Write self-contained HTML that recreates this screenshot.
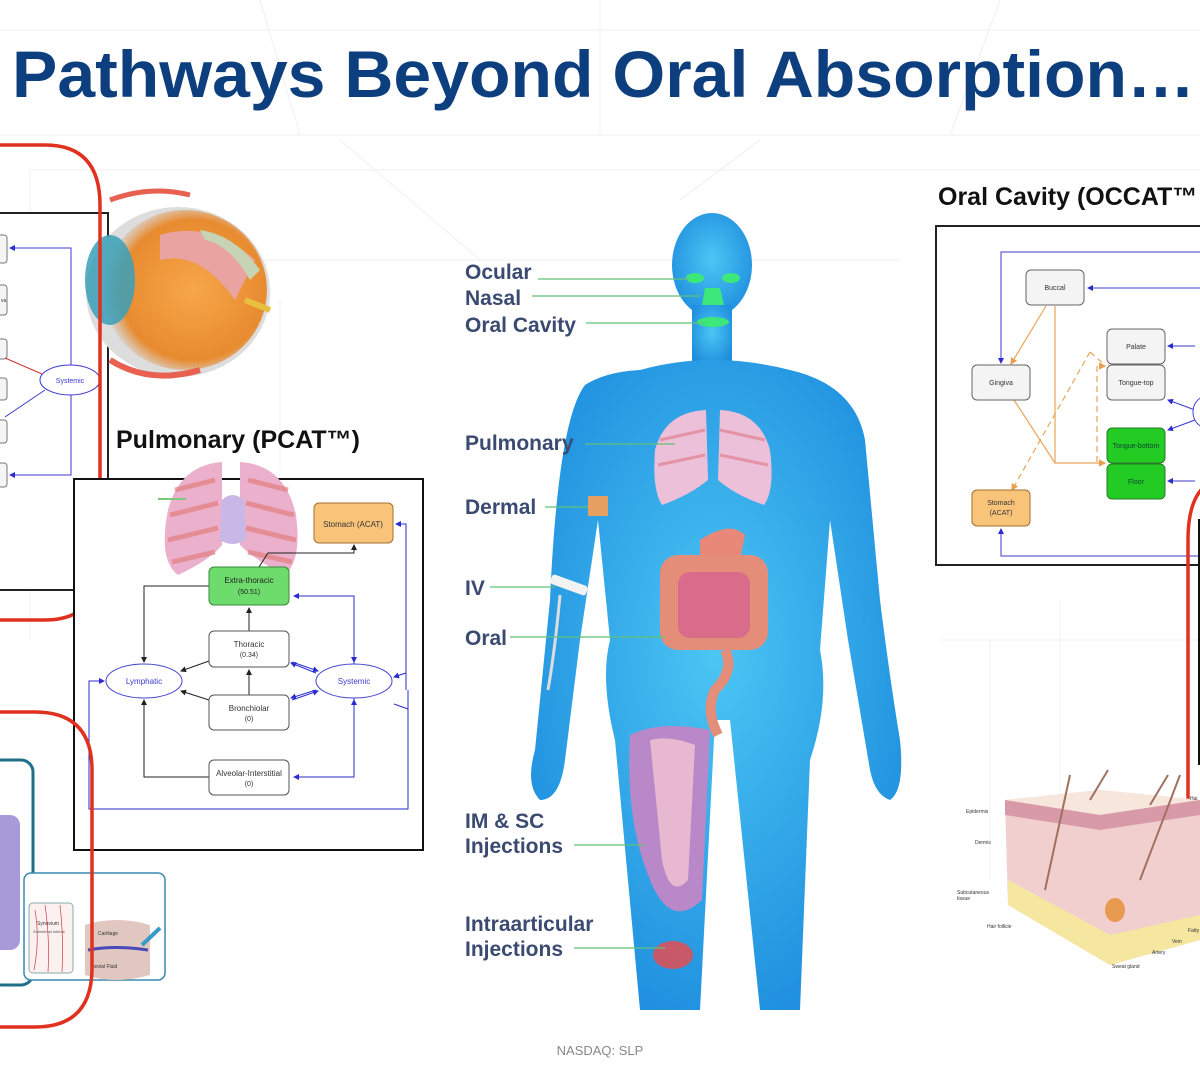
<!DOCTYPE html>
<html><head><meta charset="utf-8"><style>
html,body{margin:0;padding:0;background:#fff;}
svg{display:block;font-family:"Liberation Sans",sans-serif;}
</style></head><body>
<svg width="1200" height="1080" viewBox="0 0 1200 1080" xmlns="http://www.w3.org/2000/svg">
<defs>
<marker id="ab" markerWidth="6" markerHeight="6" refX="5" refY="3" orient="auto"><path d="M0,0 L6,3 L0,6z" fill="#2b2bd0"/></marker>
<marker id="ak" markerWidth="6" markerHeight="6" refX="5" refY="3" orient="auto"><path d="M0,0 L6,3 L0,6z" fill="#222"/></marker>
<marker id="ao" markerWidth="6" markerHeight="6" refX="5" refY="3" orient="auto"><path d="M0,0 L6,3 L0,6z" fill="#e8a050"/></marker>
<radialGradient id="bodyg" cx="50%" cy="45%" r="60%"><stop offset="0" stop-color="#4cc6f4"/><stop offset="1" stop-color="#1e8ede"/></radialGradient>
<radialGradient id="eyeg" cx="55%" cy="50%" r="55%"><stop offset="0" stop-color="#f7a64a"/><stop offset="0.8" stop-color="#e88b30"/><stop offset="1" stop-color="#d8d8d8"/></radialGradient>
</defs>
<g stroke="#f2f2f2" stroke-width="1.2" fill="none">
<line x1="0" y1="30" x2="1200" y2="30"/><line x1="0" y1="135" x2="1200" y2="135"/>
<line x1="30" y1="170" x2="1200" y2="170"/><line x1="100" y1="260" x2="900" y2="260"/>
<line x1="260" y1="0" x2="300" y2="135"/><line x1="600" y1="0" x2="600" y2="135"/>
<line x1="1000" y1="0" x2="950" y2="135"/><line x1="340" y1="140" x2="480" y2="260"/>
<line x1="760" y1="140" x2="680" y2="200"/><line x1="30" y1="170" x2="30" y2="640"/>
<line x1="990" y1="640" x2="990" y2="880"/><line x1="1060" y1="600" x2="1060" y2="800"/>
<line x1="940" y1="640" x2="1200" y2="640"/><line x1="280" y1="300" x2="280" y2="470"/>
</g>
<text x="12" y="97" font-size="66" font-weight="bold" fill="#0d3f7f" textLength="1183" lengthAdjust="spacingAndGlyphs">Pathways Beyond Oral Absorption…</text>

<rect x="-5" y="213" width="113" height="377" fill="#fff" stroke="#222" stroke-width="2"/>
<g fill="#f5f5f5" stroke="#777" stroke-width="1">
<rect x="-8" y="235" width="15" height="28" rx="3"/><rect x="-8" y="285" width="15" height="30" rx="3"/>
<rect x="-8" y="339" width="15" height="20" rx="3"/><rect x="-8" y="378" width="15" height="22" rx="3"/>
<rect x="-8" y="420" width="15" height="23" rx="3"/><rect x="-8" y="463" width="15" height="24" rx="3"/>
</g>
<text x="1" y="302" font-size="5" fill="#333">va</text>
<g stroke="#3a3ad0" stroke-width="1" fill="none">
<polyline points="71,365 71,248 10,248" marker-end="url(#ab)"/>
<polyline points="71,395 71,475 10,475" marker-end="url(#ab)"/>
<line x1="45" y1="390" x2="5" y2="417"/>
</g>
<line x1="5" y1="358" x2="42" y2="374" stroke="#d03030" stroke-width="1"/>
<ellipse cx="70" cy="380" rx="30" ry="15" fill="#fff" stroke="#3a3ad0" stroke-width="1"/>
<text x="70" y="383" font-size="7" fill="#3a3ad0" text-anchor="middle">Systemic</text>
<g>
<ellipse cx="178" cy="292" rx="92" ry="85" fill="#ddd"/>
<ellipse cx="185" cy="290" rx="82" ry="80" fill="url(#eyeg)"/>
<path d="M160,235 Q210,220 255,260 L235,300 Q200,250 160,260z" fill="#e9a3a0"/>
<path d="M200,230 Q235,235 260,270 L250,280 Q230,245 205,240z" fill="#c6d3b4"/>
<ellipse cx="110" cy="280" rx="25" ry="45" fill="#3aa0b8" opacity="0.85"/>
<path d="M110,360 Q150,385 200,370" stroke="#e86050" stroke-width="6" fill="none"/>
<path d="M110,200 Q150,185 190,195" stroke="#e86050" stroke-width="5" fill="none"/>
<path d="M245,300 L270,310" stroke="#e8c040" stroke-width="6"/>
</g>
<path d="M-20,145 H45 Q100,145 100,205 V560 Q100,620 45,620 H-20" fill="none" stroke="#e0301e" stroke-width="3.5"/>

<text x="116" y="448" font-size="25" font-weight="bold" fill="#111">Pulmonary (PCAT™)</text>
<rect x="74" y="479" width="349" height="371" fill="#fff" stroke="#111" stroke-width="2"/>
<g>
<path d="M222,462 Q180,465 168,510 Q158,560 178,575 Q210,560 222,545z" fill="#eab0cc"/>
<path d="M240,462 Q285,465 296,515 Q302,560 285,575 Q255,560 240,545z" fill="#eab0cc"/>
<g stroke="#e37f7f" stroke-width="5" opacity="0.7">
<line x1="175" y1="490" x2="215" y2="480"/><line x1="170" y1="515" x2="218" y2="503"/><line x1="168" y1="540" x2="218" y2="528"/><line x1="172" y1="562" x2="215" y2="552"/>
<line x1="248" y1="480" x2="288" y2="490"/><line x1="246" y1="503" x2="294" y2="515"/><line x1="246" y1="528" x2="296" y2="540"/><line x1="248" y1="552" x2="292" y2="562"/>
</g>
<path d="M222,500 Q232,490 244,500 L246,540 Q232,548 220,540z" fill="#c8b8e8"/>
<line x1="158" y1="499" x2="186" y2="499" stroke="#7cc87c" stroke-width="2"/>
</g>
<g stroke="#2b2bd0" stroke-width="1" fill="none">
<polyline points="406,690 406,524 396,524" marker-end="url(#ab)"/>
<polyline points="354,664 354,596 294,596" marker-end="url(#ab)"/>
<polyline points="354,596 354,662" marker-end="url(#ab)"/>
<polyline points="354,698 354,777 294,777" marker-end="url(#ab)"/>
<polyline points="354,777 354,700" marker-end="url(#ab)"/>
<polyline points="406,690 406,673 394,677" marker-end="url(#ab)"/>
<polyline points="408,690 408,709 394,704" />
<path d="M408,709 V809 H89 V681 H104" marker-end="url(#ab)"/>
<line x1="292" y1="662" x2="318" y2="671" marker-end="url(#ab)"/>
<line x1="316" y1="673" x2="291" y2="663" marker-end="url(#ab)"/>
<line x1="292" y1="700" x2="318" y2="691" marker-end="url(#ab)"/>
<line x1="316" y1="690" x2="291" y2="698" marker-end="url(#ab)"/>
</g>
<g stroke="#222" stroke-width="1" fill="none">
<polyline points="209,586 144,586 144,662" marker-end="url(#ak)"/>
<polyline points="209,777 144,777 144,700" marker-end="url(#ak)"/>
<line x1="249" y1="631" x2="249" y2="608" marker-end="url(#ak)"/>
<line x1="249" y1="695" x2="249" y2="670" marker-end="url(#ak)"/>
<line x1="209" y1="661" x2="181" y2="671" marker-end="url(#ak)"/>
<line x1="209" y1="700" x2="181" y2="691" marker-end="url(#ak)"/>
<polyline points="259,567 268,553 354,553 354,545" marker-end="url(#ak)"/>
</g>
<rect x="314" y="503" width="79" height="40" rx="5" fill="#f9c47a" stroke="#a07030"/>
<text x="353" y="527" font-size="8" text-anchor="middle" fill="#333">Stomach (ACAT)</text>
<rect x="209" y="567" width="80" height="38" rx="5" fill="#6ddc6d" stroke="#3a8a3a"/>
<text x="249" y="583" font-size="8" text-anchor="middle" fill="#222">Extra-thoracic</text><text x="249" y="594" font-size="7" text-anchor="middle" fill="#222">(50.51)</text>
<rect x="209" y="631" width="80" height="36" rx="5" fill="#fff" stroke="#555"/>
<text x="249" y="647" font-size="8" text-anchor="middle" fill="#333">Thoracic</text><text x="249" y="657" font-size="7" text-anchor="middle" fill="#333">(0.34)</text>
<rect x="209" y="695" width="80" height="35" rx="5" fill="#fff" stroke="#555"/>
<text x="249" y="711" font-size="8" text-anchor="middle" fill="#333">Bronchiolar</text><text x="249" y="721" font-size="7" text-anchor="middle" fill="#333">(0)</text>
<rect x="209" y="760" width="80" height="35" rx="5" fill="#fff" stroke="#555"/>
<text x="249" y="776" font-size="8" text-anchor="middle" fill="#333">Alveolar-Interstitial</text><text x="249" y="786" font-size="7" text-anchor="middle" fill="#333">(0)</text>
<ellipse cx="144" cy="681" rx="38" ry="17" fill="#fff" stroke="#4545d0"/>
<text x="144" y="684" font-size="8" text-anchor="middle" fill="#3a3ad0">Lymphatic</text>
<ellipse cx="354" cy="681" rx="38" ry="17" fill="#fff" stroke="#4545d0"/>
<text x="354" y="684" font-size="8" text-anchor="middle" fill="#3a3ad0">Systemic</text>

<rect x="-10" y="760" width="43" height="225" rx="12" fill="#fff" stroke="#1f6f8a" stroke-width="3"/>
<rect x="-10" y="815" width="30" height="135" rx="10" fill="#a89ad8"/>
<rect x="24" y="873" width="141" height="107" rx="7" fill="#fff" stroke="#3a8ab0" stroke-width="1.5"/>
<rect x="29" y="903" width="44" height="70" rx="4" fill="#fdf0f0" stroke="#8aa" stroke-width="1"/>
<g stroke="#c84040" stroke-width="0.7" fill="none"><path d="M35,910 Q40,940 34,970"/><path d="M45,905 Q50,940 48,972"/><path d="M60,905 Q64,940 62,972"/></g>
<text x="37" y="925" font-size="5" fill="#333">Synovium</text>
<text x="33" y="933" font-size="4" fill="#555">Subintimal   Intimal</text>
<path d="M85,925 Q115,915 150,925 L150,975 Q115,985 85,975z" fill="#e0c8c0"/>
<path d="M88,950 Q115,945 148,950" stroke="#4a48b8" stroke-width="3" fill="none"/>
<text x="98" y="935" font-size="5" fill="#333">Cartilage</text>
<text x="92" y="968" font-size="5" fill="#333">novial Fluid</text>
<line x1="142" y1="945" x2="160" y2="928" stroke="#3a9ac8" stroke-width="4"/>
<path d="M-20,712 H35 Q92,712 92,770 V968 Q92,1027 35,1027 H-20" fill="none" stroke="#e0301e" stroke-width="3.5"/>

<g fill="url(#bodyg)">
<ellipse cx="712" cy="265" rx="40" ry="52"/>
<rect x="692" y="305" width="40" height="60"/>
<path d="M640,370 Q712,350 790,370 Q855,385 865,440 L880,600 Q890,680 900,740 Q905,790 890,800 Q875,795 870,770 L848,640 L830,520 L820,650 Q830,700 810,760 L800,1010 L760,1010 L730,720 L715,720 L700,1010 L640,1010 L615,740 Q600,680 610,640 L598,520 L580,640 L565,760 Q560,800 540,800 Q525,785 535,750 L550,600 Q558,420 585,385 Q605,372 640,370z"/>
</g>
<g>
<ellipse cx="695" cy="278" rx="9" ry="5" fill="#3de87a"/><ellipse cx="731" cy="278" rx="9" ry="5" fill="#3de87a"/>
<path d="M705,288 L720,288 L724,305 L702,305z" fill="#3de87a"/>
<ellipse cx="713" cy="322" rx="16" ry="5" fill="#3de87a"/>
</g>
<path d="M706,410 Q665,412 655,450 Q652,490 662,505 Q690,495 708,480z" fill="#ecc0d8"/>
<path d="M720,410 Q760,412 770,450 Q775,490 764,505 Q735,495 718,480z" fill="#ecc0d8"/>
<g stroke="#e08090" stroke-width="3" opacity="0.7"><line x1="660" y1="440" x2="705" y2="430"/><line x1="658" y1="465" x2="705" y2="455"/><line x1="720" y1="430" x2="765" y2="440"/><line x1="720" y1="455" x2="768" y2="465"/></g>
<path d="M700,540 Q730,520 745,535 L740,560 Q720,565 700,555z" fill="#e88878"/>
<rect x="660" y="555" width="108" height="95" rx="18" fill="#e48e7a"/>
<rect x="678" y="572" width="72" height="66" rx="12" fill="#d86c8a"/>
<path d="M725,650 Q735,670 715,690 Q705,710 718,735" stroke="#e48e7a" stroke-width="10" fill="none"/>
<rect x="588" y="496" width="20" height="20" fill="#e8a060"/>
<rect x="550" y="580" width="38" height="10" rx="3" fill="#f2f2f2" transform="rotate(20 569 585)"/>
<path d="M560,595 Q555,650 548,690" stroke="#ddd" stroke-width="3" fill="none"/>
<path d="M630,735 Q660,720 710,730 L702,900 Q670,930 650,880 Q625,820 630,735z" fill="#b888c8"/>
<path d="M650,740 Q670,735 695,745 L688,880 Q670,900 662,860z" fill="#e8b8d0"/>
<ellipse cx="673" cy="955" rx="20" ry="14" fill="#f04848" opacity="0.8"/>
<g font-size="21" font-weight="bold" fill="#3a4a70">
<text x="465" y="279">Ocular</text><text x="465" y="305">Nasal</text><text x="465" y="332">Oral Cavity</text>
<text x="465" y="450">Pulmonary</text><text x="465" y="514">Dermal</text>
<text x="465" y="595">IV</text><text x="465" y="645">Oral</text>
<text x="465" y="828">IM &amp; SC</text><text x="465" y="853">Injections</text>
<text x="465" y="931">Intraarticular</text><text x="465" y="956">Injections</text>
</g>
<g stroke="#62c07a" stroke-width="1.3">
<line x1="538" y1="279" x2="688" y2="279"/><line x1="532" y1="296" x2="700" y2="296"/><line x1="586" y1="323" x2="705" y2="323"/>
<line x1="585" y1="444" x2="675" y2="444"/><line x1="545" y1="507" x2="588" y2="507"/>
<line x1="490" y1="587" x2="555" y2="587"/><line x1="510" y1="637" x2="665" y2="637"/>
<line x1="574" y1="845" x2="645" y2="845"/><line x1="574" y1="948" x2="665" y2="948"/>
</g>

<text x="938" y="205" font-size="25" font-weight="bold" fill="#111">Oral Cavity (OCCAT™</text>
<rect x="936" y="226" width="280" height="339" fill="#fff" stroke="#222" stroke-width="2"/>
<g stroke="#3a3ad0" stroke-width="1" fill="none">
<polyline points="1205,252 1001,252 1001,363" marker-end="url(#ab)"/>
<polyline points="1205,288 1088,288" marker-end="url(#ab)"/>
<polyline points="1205,556 1001,556 1001,529" marker-end="url(#ab)"/>
<polyline points="1195,346 1168,346" marker-end="url(#ab)"/>
<polyline points="1195,410 1168,400" marker-end="url(#ab)"/>
<polyline points="1195,420 1168,430" marker-end="url(#ab)"/>
<polyline points="1195,481 1168,481" marker-end="url(#ab)"/>
</g>
<g stroke="#eaa458" stroke-width="1.2" fill="none">
<line x1="1046" y1="306" x2="1011" y2="364" marker-end="url(#ao)"/>
<polyline points="1055,306 1055,463 1105,463" marker-end="url(#ao)"/>
<line x1="1014" y1="400" x2="1055" y2="463"/>
<path d="M1090,352 L1012,490" stroke-dasharray="6,4" marker-end="url(#ao)"/>
<path d="M1090,352 L1105,365" stroke-dasharray="6,4"/>
<path d="M1097,462 V366 H1105" stroke-dasharray="6,4" marker-end="url(#ao)"/>
</g>
<g font-size="7" text-anchor="middle" fill="#333">
<rect x="1026" y="270" width="58" height="35" rx="5" fill="#f4f4f4" stroke="#666"/><text x="1055" y="290">Buccal</text>
<rect x="972" y="365" width="58" height="35" rx="5" fill="#f4f4f4" stroke="#666"/><text x="1001" y="385">Gingiva</text>
<rect x="1107" y="329" width="58" height="35" rx="5" fill="#f4f4f4" stroke="#666"/><text x="1136" y="349">Palate</text>
<rect x="1107" y="365" width="58" height="35" rx="5" fill="#f4f4f4" stroke="#666"/><text x="1136" y="385">Tongue-top</text>
<rect x="1107" y="428" width="58" height="35" rx="5" fill="#22cc22" stroke="#2a7a2a"/><text x="1136" y="448" fill="#143">Tongue-bottom</text>
<rect x="1107" y="464" width="58" height="35" rx="5" fill="#22cc22" stroke="#2a7a2a"/><text x="1136" y="484" fill="#143">Floor</text>
<rect x="972" y="490" width="58" height="36" rx="5" fill="#f9c47a" stroke="#a07030"/><text x="1001" y="505">Stomach</text><text x="1001" y="515">(ACAT)</text>
</g>
<ellipse cx="1205" cy="412" rx="12" ry="15" fill="#fff" stroke="#4545d0"/>
<rect x="1199" y="520" width="20" height="244" fill="#fff" stroke="#111" stroke-width="2"/>
<path d="M1215,480 Q1188,490 1188,540 V860 Q1188,905 1215,910" fill="none" stroke="#e0301e" stroke-width="3.5"/>

<g>
<path d="M1005,800 L1100,790 L1200,800 L1200,940 L1110,965 L1008,905z" fill="#f1cfcf"/>
<path d="M1005,800 L1100,815 L1200,800 L1100,790z" fill="#f7e6dc"/>
<path d="M1005,800 L1100,815 L1100,830 L1005,815z" fill="#d89aa8"/>
<path d="M1100,815 L1200,800 L1200,815 L1100,830z" fill="#d89aa8"/>
<path d="M1008,880 L1110,935 L1200,915 L1200,940 L1110,965 L1008,905z" fill="#f5e6a0"/>
<ellipse cx="1115" cy="910" rx="10" ry="12" fill="#e89a50"/>
<g stroke="#a07060" stroke-width="2" fill="none"><path d="M1045,890 L1070,775"/><path d="M1140,880 L1180,775"/><path d="M1090,800 L1108,770"/><path d="M1150,805 L1168,775"/></g>
</g>
<g font-size="5" fill="#333">
<text x="966" y="813">Epidermis</text><text x="975" y="844">Dermis</text><text x="957" y="894">Subcutaneous</text><text x="957" y="900">tissue</text>
<text x="987" y="928">Hair follicle</text><text x="1112" y="968">Sweat gland</text><text x="1152" y="954">Artery</text><text x="1172" y="943">Vein</text><text x="1188" y="932">Fatty</text><text x="1190" y="800">Hai</text>
</g>

<text x="600" y="1055" font-size="13" fill="#888" text-anchor="middle">NASDAQ: SLP</text>
</svg>
</body></html>
